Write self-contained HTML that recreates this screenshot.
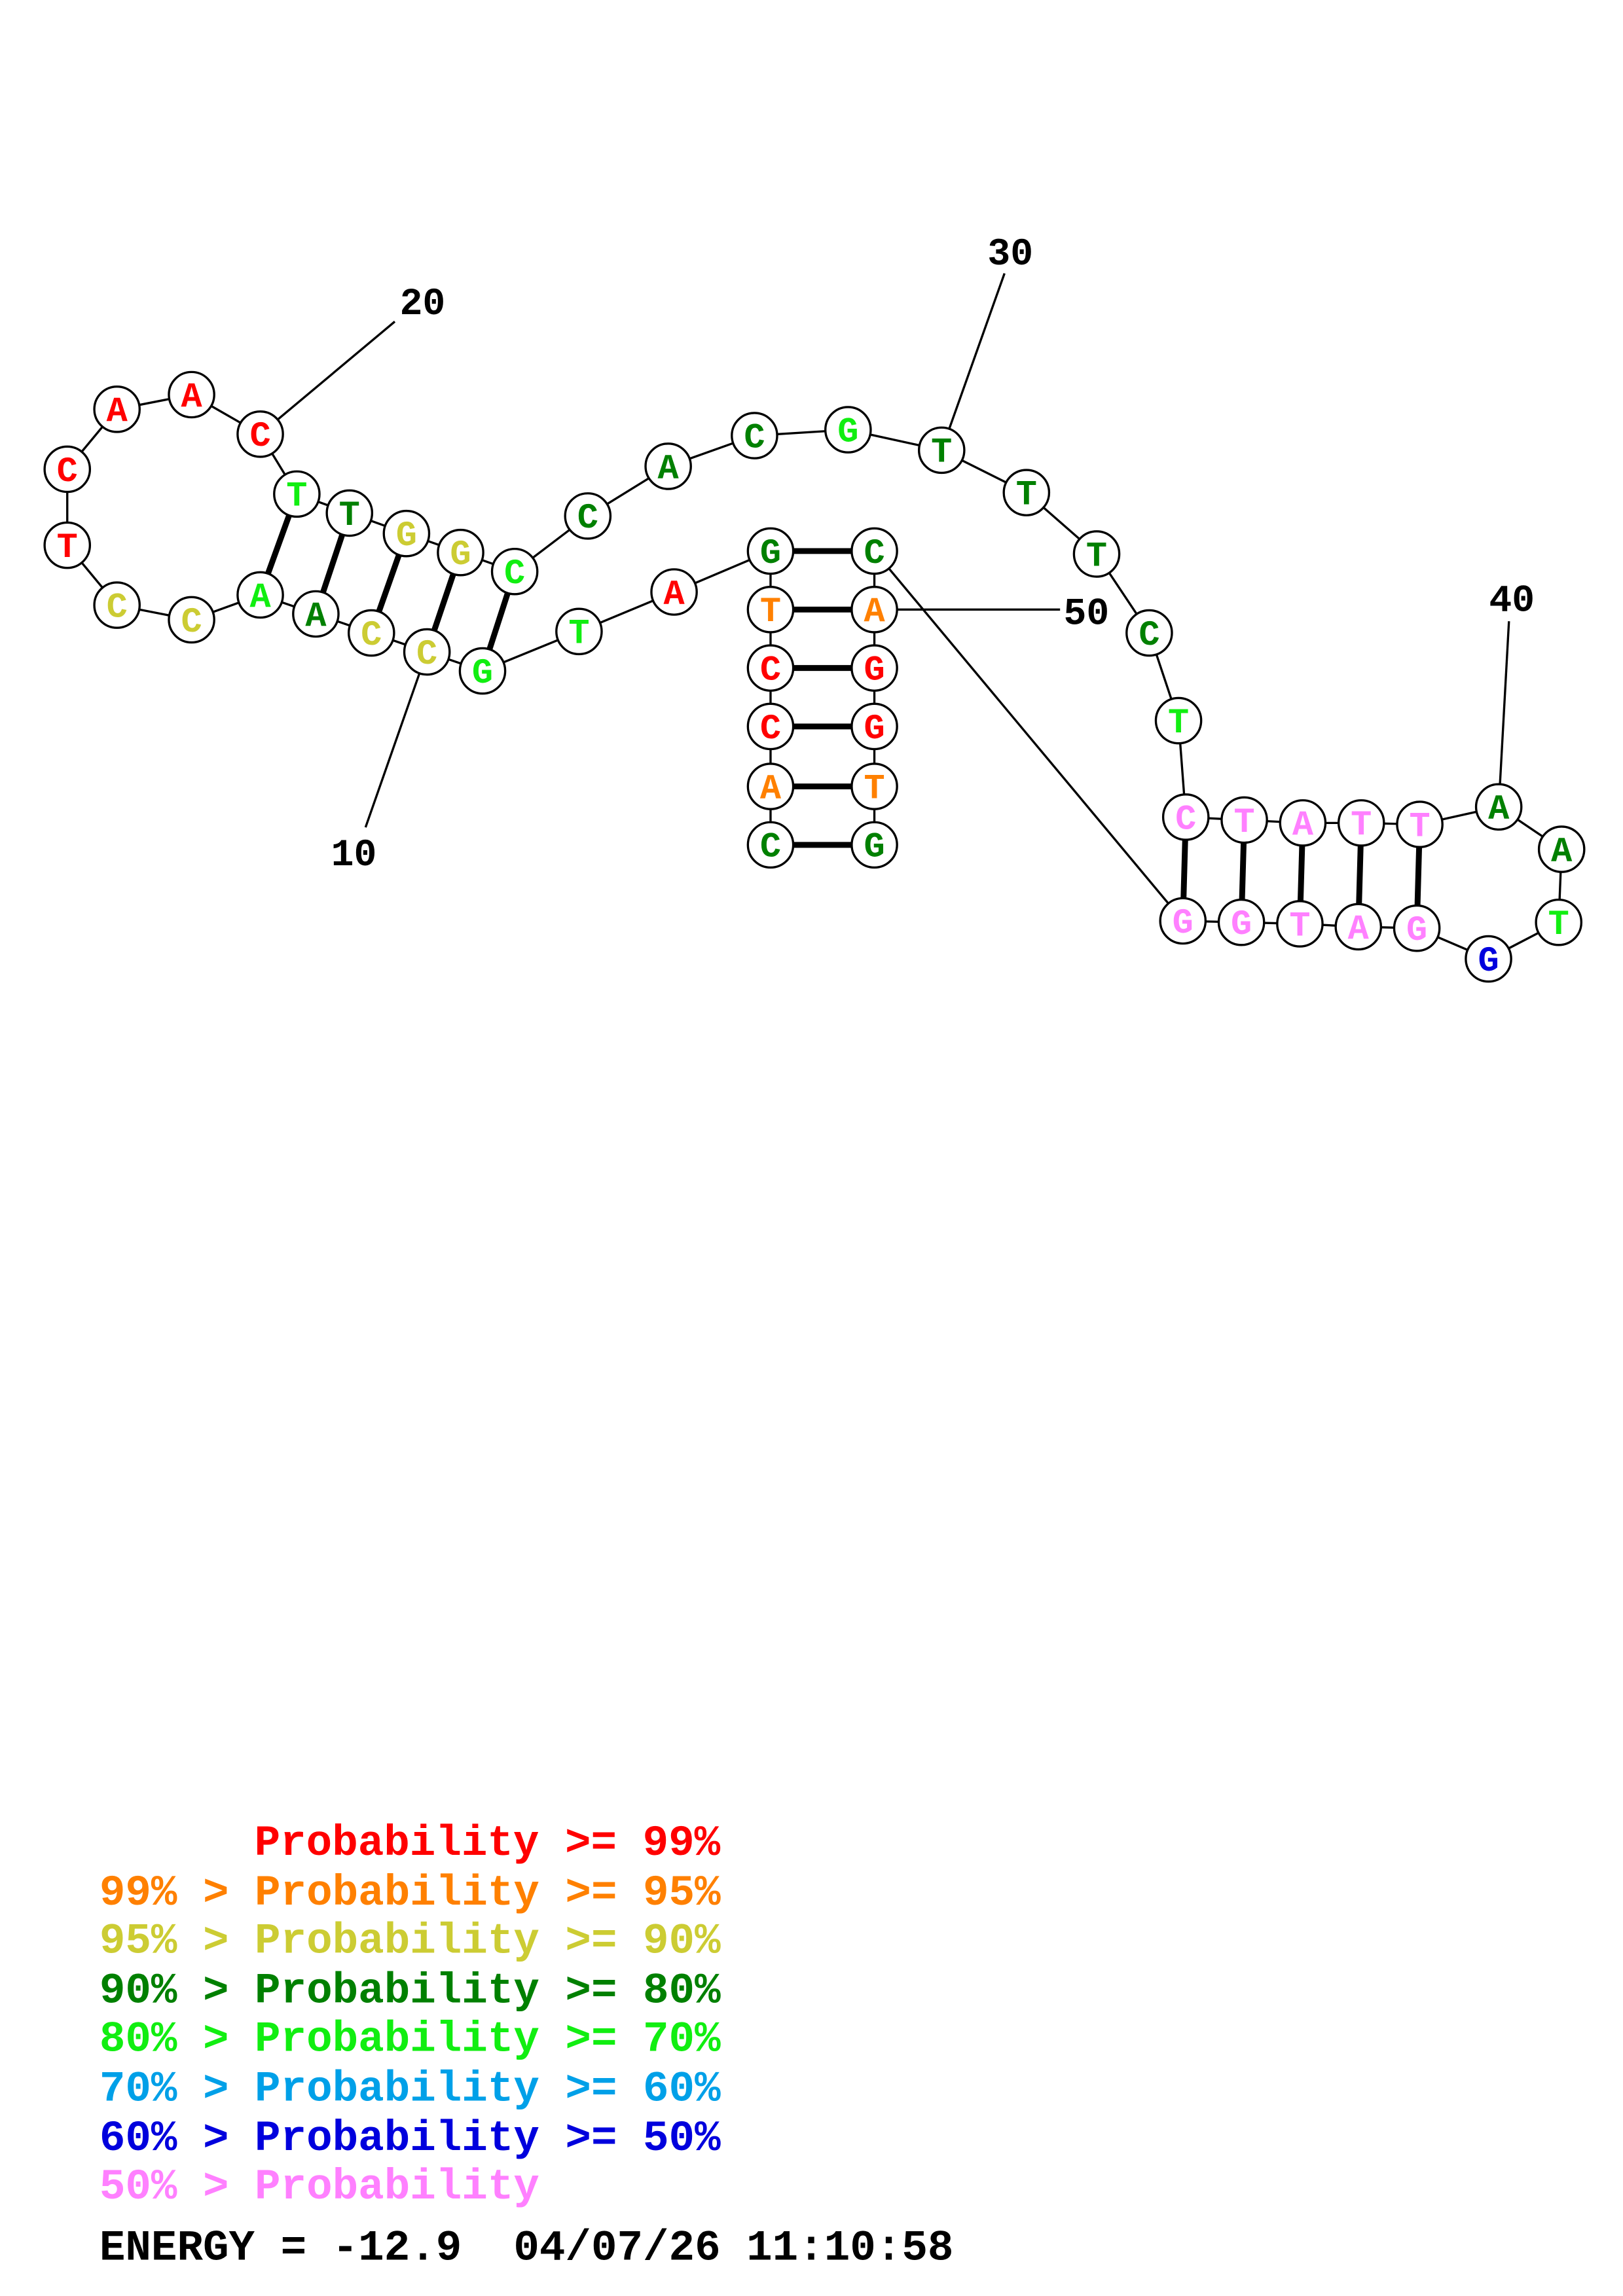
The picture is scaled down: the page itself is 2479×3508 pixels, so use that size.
<!DOCTYPE html>
<html><head><meta charset="utf-8"><style>html,body{margin:0;padding:0;background:#fff}svg{display:block}text{white-space:pre}</style></head><body>
<svg xmlns="http://www.w3.org/2000/svg" width="2479" height="3508" viewBox="0 0 1110 1570.75">
<rect width="1110" height="1570.75" fill="#fff"/>
<g stroke="#000" stroke-width="1.5" fill="none">
<polyline points="527,578 527,538 527,497 527,457 527,417 527,377 461,405 396,432 330,459 292,446 254,433 216,420 178,407 131,424 80,414 46,373 46,321 80,280 131,270 178,297 203,338 239,351 278,365 315,378 352,391 402,353 457,319 516,298 580,294 644,308 702,337 750,379 786,433 806,493 811,559 851,561 891,563 931,563 971,564 1025,552 1068,581 1066,631 1018,656 969,635 929,634 889,632 849,631 809,630 598,377 598,417 598,457 598,497 598,538 598,578"/>
<line x1="292" y1="446" x2="250" y2="566"/>
<line x1="178" y1="297" x2="270" y2="220"/>
<line x1="644" y1="308" x2="687" y2="187"/>
<line x1="1025" y1="552" x2="1032" y2="425"/>
<line x1="598" y1="417" x2="725" y2="417"/>
</g>
<g stroke="#000" stroke-width="4">
<line x1="527" y1="578" x2="598" y2="578"/>
<line x1="527" y1="538" x2="598" y2="538"/>
<line x1="527" y1="497" x2="598" y2="497"/>
<line x1="527" y1="457" x2="598" y2="457"/>
<line x1="527" y1="417" x2="598" y2="417"/>
<line x1="527" y1="377" x2="598" y2="377"/>
<line x1="178" y1="407" x2="203" y2="338"/>
<line x1="216" y1="420" x2="239" y2="351"/>
<line x1="254" y1="433" x2="278" y2="365"/>
<line x1="292" y1="446" x2="315" y2="378"/>
<line x1="330" y1="459" x2="352" y2="391"/>
<line x1="811" y1="559" x2="809" y2="630"/>
<line x1="851" y1="561" x2="849" y2="631"/>
<line x1="891" y1="563" x2="889" y2="632"/>
<line x1="931" y1="563" x2="929" y2="634"/>
<line x1="971" y1="564" x2="969" y2="635"/>
</g>
<g fill="#fff" stroke="#000" stroke-width="1.5">
<circle cx="527" cy="578" r="15.5"/><circle cx="527" cy="538" r="15.5"/><circle cx="527" cy="497" r="15.5"/><circle cx="527" cy="457" r="15.5"/><circle cx="527" cy="417" r="15.5"/><circle cx="527" cy="377" r="15.5"/>
<circle cx="461" cy="405" r="15.5"/><circle cx="396" cy="432" r="15.5"/><circle cx="330" cy="459" r="15.5"/><circle cx="292" cy="446" r="15.5"/><circle cx="254" cy="433" r="15.5"/><circle cx="216" cy="420" r="15.5"/><circle cx="178" cy="407" r="15.5"/><circle cx="131" cy="424" r="15.5"/><circle cx="80" cy="414" r="15.5"/><circle cx="46" cy="373" r="15.5"/><circle cx="46" cy="321" r="15.5"/><circle cx="80" cy="280" r="15.5"/><circle cx="131" cy="270" r="15.5"/><circle cx="178" cy="297" r="15.5"/><circle cx="203" cy="338" r="15.5"/><circle cx="239" cy="351" r="15.5"/><circle cx="278" cy="365" r="15.5"/><circle cx="315" cy="378" r="15.5"/><circle cx="352" cy="391" r="15.5"/><circle cx="402" cy="353" r="15.5"/><circle cx="457" cy="319" r="15.5"/><circle cx="516" cy="298" r="15.5"/><circle cx="580" cy="294" r="15.5"/><circle cx="644" cy="308" r="15.5"/><circle cx="702" cy="337" r="15.5"/><circle cx="750" cy="379" r="15.5"/><circle cx="786" cy="433" r="15.5"/><circle cx="806" cy="493" r="15.5"/><circle cx="811" cy="559" r="15.5"/><circle cx="851" cy="561" r="15.5"/><circle cx="891" cy="563" r="15.5"/><circle cx="931" cy="563" r="15.5"/><circle cx="971" cy="564" r="15.5"/><circle cx="1025" cy="552" r="15.5"/><circle cx="1068" cy="581" r="15.5"/><circle cx="1066" cy="631" r="15.5"/><circle cx="1018" cy="656" r="15.5"/><circle cx="969" cy="635" r="15.5"/><circle cx="929" cy="634" r="15.5"/><circle cx="889" cy="632" r="15.5"/><circle cx="849" cy="631" r="15.5"/><circle cx="809" cy="630" r="15.5"/>
<circle cx="598" cy="377" r="15.5"/><circle cx="598" cy="417" r="15.5"/><circle cx="598" cy="457" r="15.5"/><circle cx="598" cy="497" r="15.5"/><circle cx="598" cy="538" r="15.5"/><circle cx="598" cy="578" r="15.5"/>
</g>
<g font-family="Liberation Mono, monospace" font-weight="bold" font-size="24" text-anchor="middle">
<text x="527" y="586" fill="#008000">C</text><text x="527" y="546" fill="#ff8000">A</text><text x="527" y="505" fill="#ff0000">C</text><text x="527" y="465" fill="#ff0000">C</text><text x="527" y="425" fill="#ff8000">T</text><text x="527" y="385" fill="#008000">G</text>
<text x="461" y="413" fill="#ff0000">A</text><text x="396" y="440" fill="#11ee11">T</text><text x="330" y="467" fill="#11ee11">G</text><text x="292" y="454" fill="#cccc33">C</text><text x="254" y="441" fill="#cccc33">C</text><text x="216" y="428" fill="#008000">A</text><text x="178" y="415" fill="#11ee11">A</text><text x="131" y="432" fill="#cccc33">C</text><text x="80" y="422" fill="#cccc33">C</text><text x="46" y="381" fill="#ff0000">T</text><text x="46" y="329" fill="#ff0000">C</text><text x="80" y="288" fill="#ff0000">A</text><text x="131" y="278" fill="#ff0000">A</text><text x="178" y="305" fill="#ff0000">C</text><text x="203" y="346" fill="#11ee11">T</text><text x="239" y="359" fill="#008000">T</text><text x="278" y="373" fill="#cccc33">G</text><text x="315" y="386" fill="#cccc33">G</text><text x="352" y="399" fill="#11ee11">C</text><text x="402" y="361" fill="#008000">C</text><text x="457" y="327" fill="#008000">A</text><text x="516" y="306" fill="#008000">C</text><text x="580" y="302" fill="#11ee11">G</text><text x="644" y="316" fill="#008000">T</text><text x="702" y="345" fill="#008000">T</text><text x="750" y="387" fill="#008000">T</text><text x="786" y="441" fill="#008000">C</text><text x="806" y="501" fill="#11ee11">T</text><text x="811" y="567" fill="#ff80ff">C</text><text x="851" y="569" fill="#ff80ff">T</text><text x="891" y="571" fill="#ff80ff">A</text><text x="931" y="571" fill="#ff80ff">T</text><text x="971" y="572" fill="#ff80ff">T</text><text x="1025" y="560" fill="#008000">A</text><text x="1068" y="589" fill="#008000">A</text><text x="1066" y="639" fill="#11ee11">T</text><text x="1018" y="664" fill="#0000dd">G</text><text x="969" y="643" fill="#ff80ff">G</text><text x="929" y="642" fill="#ff80ff">A</text><text x="889" y="640" fill="#ff80ff">T</text><text x="849" y="639" fill="#ff80ff">G</text><text x="809" y="638" fill="#ff80ff">G</text>
<text x="598" y="385" fill="#008000">C</text><text x="598" y="425" fill="#ff8000">A</text><text x="598" y="465" fill="#ff0000">G</text><text x="598" y="505" fill="#ff0000">G</text><text x="598" y="546" fill="#ff8000">T</text><text x="598" y="586" fill="#008000">G</text>
</g>
<g font-family="Liberation Mono, monospace" font-weight="bold" font-size="26" fill="#000" text-anchor="middle">
<text x="242" y="592">10</text><text x="289" y="215">20</text><text x="691" y="181">30</text><text x="1034" y="418">40</text><text x="743" y="427">50</text>
</g>
<g font-family="Liberation Mono, monospace" font-weight="bold" font-size="29.5">
<text x="174" y="1269" fill="#ff0000">Probability &gt;= 99%</text>
<text x="68" y="1303" fill="#ff8000">99% &gt; Probability &gt;= 95%</text>
<text x="68" y="1336" fill="#cccc33">95% &gt; Probability &gt;= 90%</text>
<text x="68" y="1370" fill="#008000">90% &gt; Probability &gt;= 80%</text>
<text x="68" y="1403" fill="#11ee11">80% &gt; Probability &gt;= 70%</text>
<text x="68" y="1437" fill="#00a0e8">70% &gt; Probability &gt;= 60%</text>
<text x="68" y="1471" fill="#0000dd">60% &gt; Probability &gt;= 50%</text>
<text x="68" y="1504" fill="#ff80ff">50% &gt; Probability</text>
<text x="68" y="1546" fill="#000">ENERGY = -12.9&#160;&#160;04/07/26 11:10:58</text>
</g>
</svg>
</body></html>
